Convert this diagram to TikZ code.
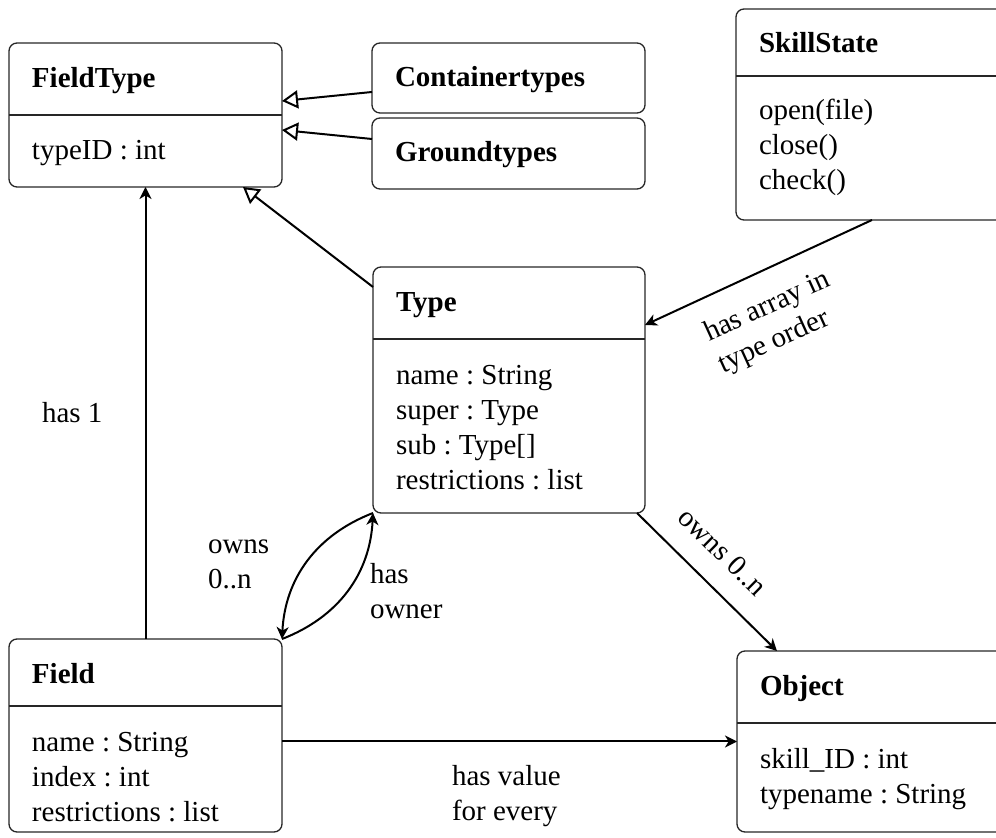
\documentclass[tikz,border=0pt]{standalone}
\usepackage{fontspec}
\setmainfont{Liberation Serif}
\usetikzlibrary{arrows.meta,fit,calc}
% fixed-height strut so the first baseline of a block sits 12pt below its top
\newcommand\lnstrut{\rule{0pt}{12pt}}
\frenchspacing
\begin{document}
\begin{tikzpicture}[x=0.5pt,y=-0.5pt,
  txt/.style={font=\fontsize{14.5}{17.5}\selectfont, inner sep=0pt, outer sep=0pt},
  cls/.style={draw=black!85, line width=0.65pt, rounded corners=4pt, inner sep=0pt, outer sep=0pt},
  divider/.style={draw=black!85, line width=0.65pt},
  title/.style={txt, font=\fontsize{14.5}{17.5}\selectfont\bfseries, anchor=base west},
  oneline/.style={txt, anchor=base west},
  lines/.style={txt, anchor=north west, align=left},
  conn/.style={draw=black, line width=1pt},
  assoc/.style={conn, -{Stealth[length=6pt,width=6pt,inset=1.8pt]}},
  inherit/.style={conn, -{Triangle[length=8pt,width=9pt,fill=white]}},
]
\useasboundingbox (0,0) rectangle (996,838);

% ---- class boxes ----
\node[cls, fit={(9,43) (282,187)}] (fieldtype) {};
\draw[divider] (9,115) -- (282,115);
\node[title] (fieldtypeT) at (32,87.5) {FieldType};
\node[oneline] (fieldtypeB) at (32,160) {typeID : int};

\node[cls, fit={(372,43) (645,113)}] (ct) {};
\node[title] (ctT) at (395,86.5) {Containertypes};

\node[cls, fit={(372,118) (645,189)}] (gt) {};
\node[title] (gtT) at (395,161.5) {Groundtypes};

\node[cls, fit={(736,9) (1010,220)}] (skill) {};
\draw[divider] (736,76) -- (1010,76);
\node[title] (skillT) at (759,53) {SkillState};
\node[lines] (skillB) at (759,120-24) {\lnstrut open(file)\\close()\\check()};

\node[cls, fit={(373,267) (645,513)}] (type) {};
\draw[divider] (373,339) -- (645,339);
\node[title] (typeT) at (396,312) {Type};
\node[lines] (typeB) at (396,385-24) {\lnstrut name : String\\super : Type\\sub : Type[]\\restrictions : list};

\node[cls, fit={(9,639) (282,832)}] (field) {};
\draw[divider] (9,706) -- (282,706);
\node[title] (fieldT) at (32,683.5) {Field};
\node[lines] (fieldB) at (32,751.5-24) {\lnstrut name : String\\index : int\\restrictions : list};

\node[cls, fit={(737,651) (1010,832)}] (object) {};
\draw[divider] (737,723) -- (1010,723);
\node[title] (objectT) at (760,695.5) {Object};
\node[lines] (objectB) at (760,769-24) {\lnstrut skill\_ID : int\\typename : String};

% ---- generalisations ----
\draw[inherit] ($(ct.west)+(0,14)$) -- ($(fieldtype.east)+(0,-14)$);
\draw[inherit] ($(gt.west)+(0,-14.5)$) -- ($(fieldtype.east)+(0,15)$);
\draw[inherit] ($(type.north west)+(0,20)$) -- ($(fieldtype.south east)+(-39,0)$);

% ---- associations ----
\draw[assoc] (field.north) -- (fieldtype.south);
\draw[assoc] ($(skill.south west)+(136,0)$) -- ($(type.north east)+(0,58)$);
\draw[assoc] ($(type.south east)+(-8,0)$) -- ($(object.north west)+(40,0)$);
\draw[assoc] (object.west -| field.east) -- (object.west);
\draw[assoc] (type.south west) to[bend right=33] (field.north east);
\draw[assoc] (field.north east) to[bend right=33] (type.south west);

% ---- connector labels ----
\node[oneline] (lblHas1) at (42,423) {has 1};
\node[lines] (lblOwnsL) at (208,553.5-24) {\lnstrut owns\\0..n};
\node[lines] (lblOwner) at (370,583.5-24) {\lnstrut has\\owner};
\node[lines] (lblValue) at (452,785.5-24) {\lnstrut has value\\for every};
\node[txt, align=left, rotate=24.5] (lblArray) at (775,323) {has array in\\type order};
\node[txt, rotate=-44.5] (lblOwnsR) at (723,552) {owns 0..n};
\end{tikzpicture}
\end{document}
